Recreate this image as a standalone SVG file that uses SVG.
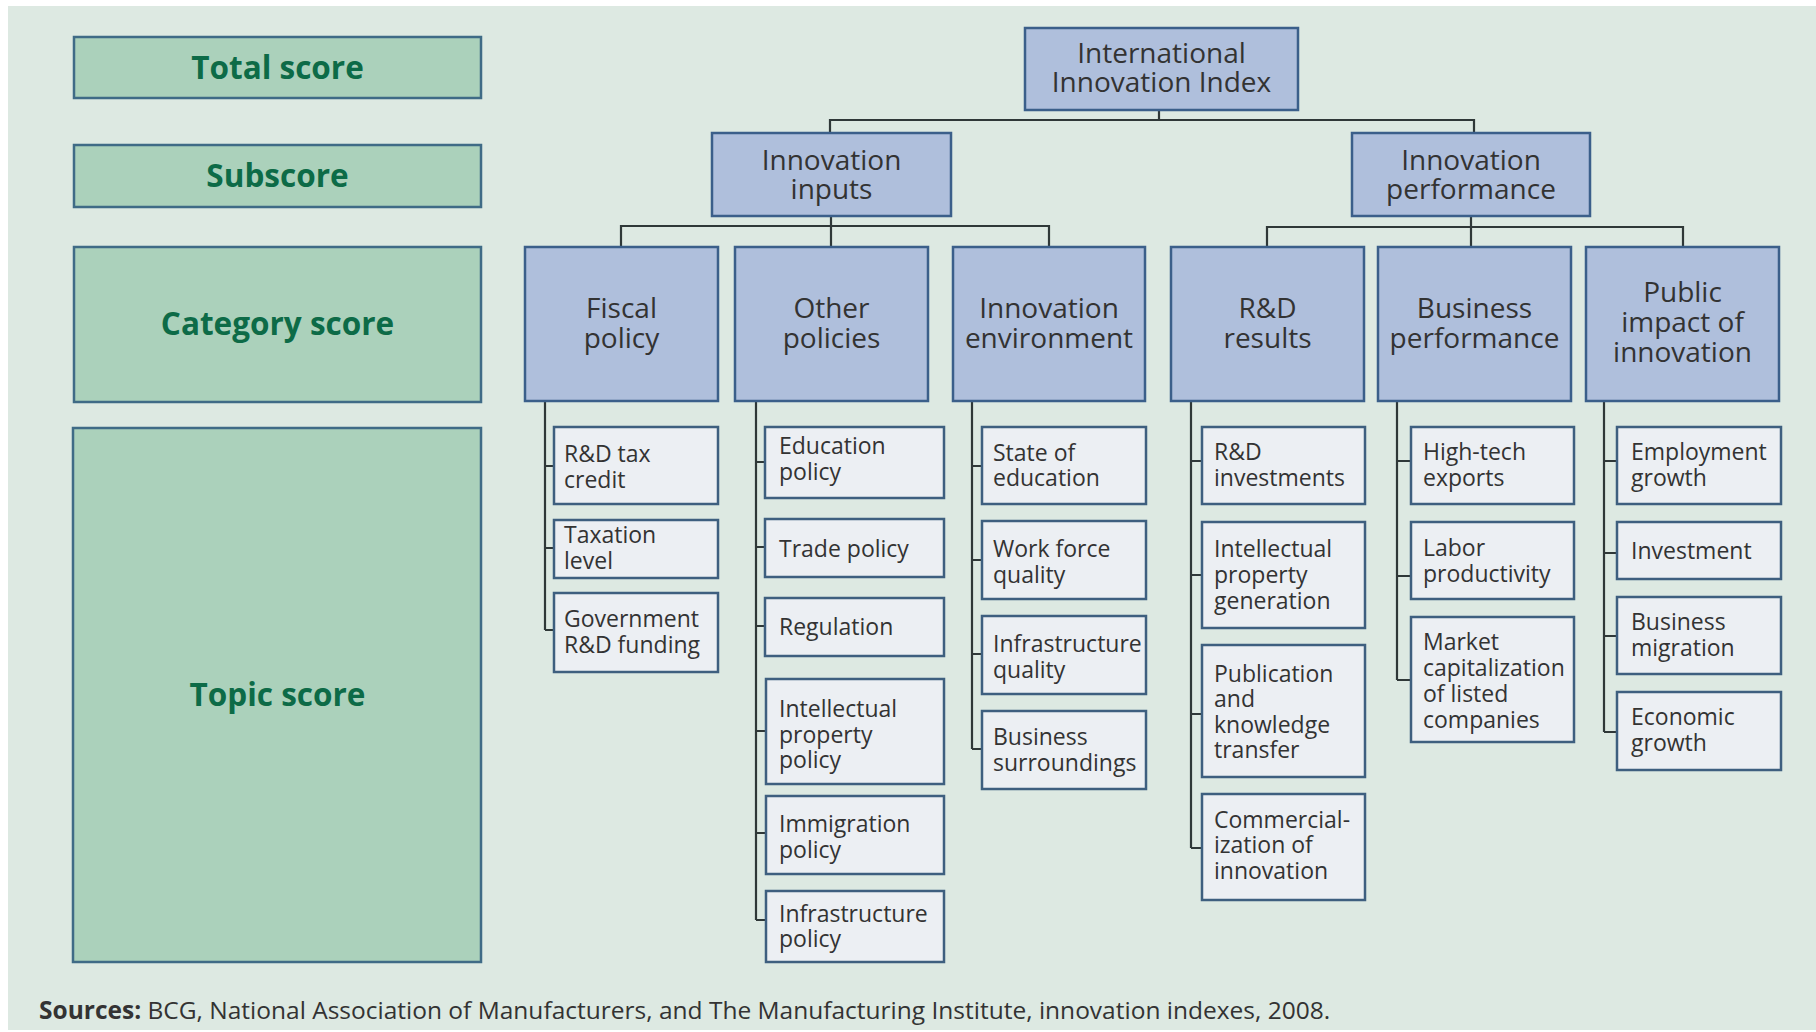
<svg xmlns="http://www.w3.org/2000/svg" width="1816" height="1032" viewBox="0 0 1816 1032">
<style>
.bg{fill:#dde9e2}
.leg rect{fill:#abd1bb;stroke:#3f6b86;stroke-width:2.5}
.leg text{font-family:"Open Sans","DejaVu Sans",sans-serif;font-weight:700;font-size:31.5px;fill:#0d6b47;text-anchor:middle}
.nd rect{fill:#afbfdc;stroke:#3b5f8a;stroke-width:2.5}
.nd text{font-family:"Open Sans","DejaVu Sans",sans-serif;font-size:28px;fill:#333;text-anchor:middle}
.tp rect{fill:#eceff3;stroke:#3e5f7f;stroke-width:2.5}
.tp text{font-family:"Open Sans","DejaVu Sans",sans-serif;font-size:23px;fill:#333}
#connectors path{fill:none;stroke:#2f3838;stroke-width:2.2}
.src{font-family:"Open Sans","DejaVu Sans",sans-serif;font-size:24.5px;fill:#333}
</style>
<rect width="1816" height="1032" fill="#ffffff"/>
<rect class="bg" x="8" y="6" width="1808" height="1024"/>

<g id="legend-total" class="leg"><rect x="74" y="37" width="407" height="61"/><text x="277.5" y="79">Total score</text></g>
<g id="legend-subscore" class="leg"><rect x="74" y="145" width="407" height="62"/><text x="277.5" y="187">Subscore</text></g>
<g id="legend-category" class="leg"><rect x="74" y="247" width="407" height="155"/><text x="277.5" y="335">Category score</text></g>
<g id="legend-topic" class="leg"><rect x="73" y="428" width="408" height="534"/><text x="277.5" y="706">Topic score</text></g>

<g id="connectors">
<path d="M1159 110V120M830 133V120H1474V133"/>
<path d="M831 216V226M621 247V226H1049V247M831 226V247"/>
<path d="M1471 216V247M1267 247V227H1683V247"/>
<path d="M545 401V630M545 466H554M545 548H554M545 630H554"/>
<path d="M756 401V920M756 462H765M756 547H765M756 626H765M756 731H766M756 833H766M756 920H766"/>
<path d="M972 401V749M972 466H982M972 560H982M972 654H982M972 749H982"/>
<path d="M1191 401V848M1191 461H1202M1191 575H1202M1191 714H1202M1191 848H1202"/>
<path d="M1397 401V680M1397 461H1411M1397 576H1411M1397 680H1411"/>
<path d="M1604 401V732M1604 461H1617M1604 553H1617M1604 636H1617M1604 732H1617"/>
</g>

<g id="n-index" class="nd"><rect x="1025" y="28" width="273" height="82"/><text x="1161.5" y="63">International<tspan x="1161.5" dy="29">Innovation Index</tspan></text></g>
<g id="n-inputs" class="nd"><rect x="712" y="133" width="239" height="83"/><text x="831.5" y="170">Innovation<tspan x="831.5" dy="29">inputs</tspan></text></g>
<g id="n-performance" class="nd"><rect x="1352" y="133" width="238" height="83"/><text x="1471" y="170">Innovation<tspan x="1471" dy="29">performance</tspan></text></g>

<g id="n-fiscal" class="nd"><rect x="525" y="247" width="193" height="154"/><text x="621.5" y="318">Fiscal<tspan x="621.5" dy="30">policy</tspan></text></g>
<g id="n-other" class="nd"><rect x="735" y="247" width="193" height="154"/><text x="831.5" y="318">Other<tspan x="831.5" dy="30">policies</tspan></text></g>
<g id="n-env" class="nd"><rect x="953" y="247" width="192" height="154"/><text x="1049" y="318">Innovation<tspan x="1049" dy="30">environment</tspan></text></g>
<g id="n-rd" class="nd"><rect x="1171" y="247" width="193" height="154"/><text x="1267.5" y="318">R&amp;D<tspan x="1267.5" dy="30">results</tspan></text></g>
<g id="n-business" class="nd"><rect x="1378" y="247" width="193" height="154"/><text x="1474.5" y="318">Business<tspan x="1474.5" dy="30">performance</tspan></text></g>
<g id="n-public" class="nd"><rect x="1586" y="247" width="193" height="154"/><text x="1682.5" y="302">Public<tspan x="1682.5" dy="30">impact of</tspan><tspan x="1682.5" dy="30">innovation</tspan></text></g>

<g id="t-rdtax" class="tp"><rect x="554" y="427" width="164" height="77"/><text x="564" y="462">R&amp;D tax<tspan x="564" dy="26">credit</tspan></text></g>
<g id="t-taxation" class="tp"><rect x="554" y="520" width="164" height="58"/><text x="564" y="543">Taxation<tspan x="564" dy="26">level</tspan></text></g>
<g id="t-govfund" class="tp"><rect x="554" y="593" width="164" height="79"/><text x="564" y="627">Government<tspan x="564" dy="26">R&amp;D funding</tspan></text></g>

<g id="t-education" class="tp"><rect x="765" y="427" width="179" height="71"/><text x="779" y="454">Education<tspan x="779" dy="26">policy</tspan></text></g>
<g id="t-trade" class="tp"><rect x="765" y="519" width="179" height="58"/><text x="779" y="557">Trade policy</text></g>
<g id="t-regulation" class="tp"><rect x="765" y="598" width="179" height="58"/><text x="779" y="635">Regulation</text></g>
<g id="t-ippolicy" class="tp"><rect x="766" y="679" width="178" height="105"/><text x="779" y="717">Intellectual<tspan x="779" dy="26">property</tspan><tspan x="779" dy="25">policy</tspan></text></g>
<g id="t-immigration" class="tp"><rect x="766" y="796" width="178" height="78"/><text x="779" y="832">Immigration<tspan x="779" dy="26">policy</tspan></text></g>
<g id="t-infrapolicy" class="tp"><rect x="766" y="891" width="178" height="71"/><text x="779" y="922">Infrastructure<tspan x="779" dy="25">policy</tspan></text></g>

<g id="t-stateedu" class="tp"><rect x="982" y="427" width="164" height="77"/><text x="993" y="461">State of<tspan x="993" dy="25">education</tspan></text></g>
<g id="t-workforce" class="tp"><rect x="982" y="521" width="164" height="78"/><text x="993" y="557">Work force<tspan x="993" dy="26">quality</tspan></text></g>
<g id="t-infraquality" class="tp"><rect x="982" y="616" width="164" height="78"/><text x="993" y="652">Infrastructure<tspan x="993" dy="26">quality</tspan></text></g>
<g id="t-surroundings" class="tp"><rect x="982" y="711" width="164" height="78"/><text x="993" y="745">Business<tspan x="993" dy="26">surroundings</tspan></text></g>

<g id="t-rdinvest" class="tp"><rect x="1202" y="427" width="163" height="77"/><text x="1214" y="460">R&amp;D<tspan x="1214" dy="26">investments</tspan></text></g>
<g id="t-ipgen" class="tp"><rect x="1202" y="522" width="163" height="106"/><text x="1214" y="557">Intellectual<tspan x="1214" dy="26">property</tspan><tspan x="1214" dy="26">generation</tspan></text></g>
<g id="t-publication" class="tp"><rect x="1202" y="645" width="163" height="132"/><text x="1214" y="682">Publication<tspan x="1214" dy="25">and</tspan><tspan x="1214" dy="26">knowledge</tspan><tspan x="1214" dy="25">transfer</tspan></text></g>
<g id="t-commercial" class="tp"><rect x="1202" y="794" width="163" height="106"/><text x="1214" y="828">Commercial-<tspan x="1214" dy="25">ization of</tspan><tspan x="1214" dy="26">innovation</tspan></text></g>

<g id="t-hightech" class="tp"><rect x="1411" y="427" width="163" height="77"/><text x="1423" y="460">High-tech<tspan x="1423" dy="26">exports</tspan></text></g>
<g id="t-labor" class="tp"><rect x="1411" y="522" width="163" height="77"/><text x="1423" y="556">Labor<tspan x="1423" dy="26">productivity</tspan></text></g>
<g id="t-market" class="tp"><rect x="1411" y="617" width="163" height="125"/><text x="1423" y="650">Market<tspan x="1423" dy="26">capitalization</tspan><tspan x="1423" dy="26">of listed</tspan><tspan x="1423" dy="26">companies</tspan></text></g>

<g id="t-employment" class="tp"><rect x="1617" y="427" width="164" height="77"/><text x="1631" y="460">Employment<tspan x="1631" dy="26">growth</tspan></text></g>
<g id="t-investment" class="tp"><rect x="1617" y="522" width="164" height="57"/><text x="1631" y="559">Investment</text></g>
<g id="t-migration" class="tp"><rect x="1617" y="597" width="164" height="77"/><text x="1631" y="630">Business<tspan x="1631" dy="26">migration</tspan></text></g>
<g id="t-economic" class="tp"><rect x="1617" y="692" width="164" height="78"/><text x="1631" y="725">Economic<tspan x="1631" dy="26">growth</tspan></text></g>

<text class="src" x="39" y="1019"><tspan font-weight="700">Sources:</tspan> BCG, National Association of Manufacturers, and The Manufacturing Institute, innovation indexes, 2008.</text>
</svg>
